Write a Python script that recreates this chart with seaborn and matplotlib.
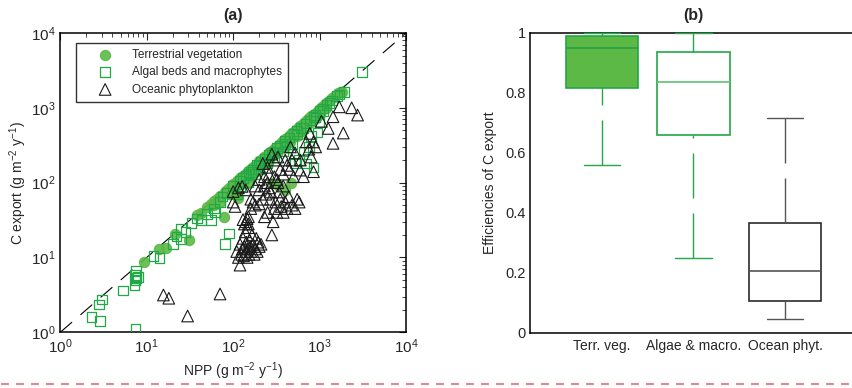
import numpy as np
import pandas as pd
import matplotlib
matplotlib.use("Agg")
import matplotlib.pyplot as plt
from matplotlib.lines import Line2D
import seaborn as sns

# %% data

# panel (a): NPP vs C export (g m-2 y-1)
terr_npp = [9.3, 14, 16.5, 21, 31, 38, 42, 50, 55, 60, 65, 70, 78, 80, 85, 90, 95, 100,
            105, 110, 115, 120, 130, 140, 145, 150, 160, 170, 180, 190, 200, 210, 220,
            230, 240, 250, 260, 270, 280, 300, 320, 330, 340, 360, 380, 400, 400, 420,
            450, 465, 480, 500, 530, 560, 600, 640, 680, 720, 760, 800, 850, 900, 950,
            1000, 1050, 1100, 1200, 1300, 1400, 1500, 1650, 1750, 1800,
            110, 130, 180, 230, 260, 300, 350, 450, 500, 600, 700, 285,
            60, 70, 90, 100, 120, 160, 200, 250, 320, 400, 550, 650, 800, 900, 1000, 1200]
terr_c = [8.8, 12.8, 13.2, 20.5, 17, 37, 39, 47, 52, 56, 60, 66, 35, 75, 80, 84, 72, 96,
          97, 104, 62, 114, 124, 132, 100, 142, 152, 162, 168, 160, 192, 200, 208,
          220, 228, 210, 248, 256, 268, 285, 304, 93, 322, 340, 362, 80, 378, 400,
          428, 100, 455, 470, 505, 530, 565, 610, 650, 690, 720, 770, 810, 860, 910,
          960, 1000, 1060, 1150, 1240, 1340, 1440, 1560, 1620, 1640,
          68, 100, 140, 180, 200, 240, 280, 350, 420, 470, 560, 99,
          50, 55, 70, 80, 95, 120, 160, 185, 250, 300, 420, 500, 640, 720, 830, 1000]

alg_npp = [2.3, 2.9, 2.8, 3.05, 5.3, 7.2, 7.4, 7.6, 7.3, 7.5, 7.9, 7.4, 12, 14, 20, 22,
           25, 25, 28, 33, 38, 43, 50, 55, 60, 62, 70, 80, 90, 75, 85, 100, 110, 120,
           130, 140, 150, 160, 170, 180, 190, 200, 210, 230, 250, 260, 280, 300, 320,
           350, 380, 400, 420, 450, 480, 500, 520, 550, 580, 600, 650, 700, 700, 750,
           780, 800, 850, 850, 900, 950, 1000, 1000, 1100, 1200, 1400, 1600, 1900, 3100,
           120, 150, 200, 230, 300, 400, 550, 650, 900, 1100, 1300, 1700]
alg_c = [1.6, 1.42, 2.35, 2.75, 3.6, 4.2, 5.0, 5.3, 5.8, 6.6, 5.5, 1.13, 10.5, 9.8, 15, 19,
         17.5, 24, 22, 29, 33, 31.5, 38, 31.5, 45, 40, 55, 15, 21, 65, 72, 90, 70, 105,
         115, 125, 100, 140, 150, 130, 175, 150, 190, 210, 180, 235, 250, 220, 290,
         310, 260, 360, 300, 400, 330, 450, 180, 490, 200, 540, 260, 620, 180, 300,
         680, 420, 750, 160, 800, 470, 900, 650, 980, 1080, 1250, 1450, 1620, 3000,
         90, 130, 170, 190, 260, 330, 440, 540, 740, 900, 1150, 1500]

ocean_npp = [15.6, 18, 29.7, 70.5, 120, 110, 115, 120, 125, 128, 130, 132, 135, 138, 140,
             142, 145, 148, 150, 152, 155, 158, 160, 165, 170, 175, 180, 185, 190, 195,
             200, 140, 145, 150, 135, 130, 150, 210, 100, 105, 100, 127, 115, 140, 160,
             170, 180, 160, 200, 220, 200, 230, 240, 250, 260, 270, 280, 290, 300, 310,
             300, 320, 330, 350, 360, 380, 400, 420, 350, 380, 400, 420, 450, 460, 480,
             500, 520, 550, 580, 595, 600, 650, 700, 750, 770, 800, 850, 850, 900, 1050,
             1260, 1430, 1690, 2350, 2750, 1430, 1880, 220, 250, 280, 300, 330, 230, 260,
             320, 180, 200, 250, 230, 270, 340, 380, 440, 480, 520]
ocean_c = [3.15, 2.85, 1.65, 3.25, 7.9, 12, 10, 15, 11, 13, 18, 10.5, 14, 22, 12,
           16, 10, 13, 25, 11, 17, 14, 12, 20, 15, 11, 13, 18, 12, 16,
           14, 30, 33, 35, 28, 32, 28, 15, 55, 48, 76, 89, 85, 80, 60,
           55, 50, 45, 52, 60, 80, 90, 70, 100, 85, 75, 20, 30, 45, 55,
           120, 110, 100, 60, 48, 40, 55, 45, 150, 130, 200, 170, 150, 300, 200,
           120, 250, 60, 55, 147, 200, 120, 350, 280, 455, 220, 140, 350, 300, 660,
           530, 760, 1030, 1000, 800, 335, 460, 180, 160, 240, 200, 220, 120, 130,
           40, 90, 110, 40, 35, 60, 75, 90, 65, 50, 45]

legend_labels = ["Terrestrial vegetation", "Algal beds and macrophytes", "Oceanic phytoplankton"]

# panel (b): five-number summaries of the export efficiencies (min, q1, median, q3, max)
box_groups = ["Terr. veg.", "Algae & macro.", "Ocean phyt."]
terr_eff = [0.56, 0.815, 0.95, 0.99, 1.0]
alg_eff = [0.25, 0.66, 0.835, 0.935, 1.0]
ocean_eff = [0.045, 0.105, 0.205, 0.365, 0.715]

# %% style
sns.set_style("white")
plt.rcParams["font.family"] = ["Liberation Sans", "DejaVu Sans"]
plt.rcParams["mathtext.default"] = "regular"

GREEN_FILL = "#5cb946"
GREEN_EDGE = "#21a847"

fig = plt.figure(figsize=(8.53, 3.88), dpi=100)
ax1 = fig.add_axes([0.0707, 0.1436, 0.4053, 0.7714])
ax2 = fig.add_axes([0.6213, 0.1418, 0.3869, 0.7732])

# %% panel (a)
df_t = pd.DataFrame({"npp": terr_npp, "c": terr_c})
df_a = pd.DataFrame({"npp": alg_npp, "c": alg_c})
df_o = pd.DataFrame({"npp": ocean_npp, "c": ocean_c})

ax1.plot([1, 1e4], [1, 1e4], color="black", lw=0.8, linestyle=(0, (14, 10)), zorder=1)
sns.scatterplot(data=df_t, x="npp", y="c", ax=ax1, marker="o", s=55,
                color=GREEN_FILL, edgecolor=GREEN_FILL, linewidth=0.8, alpha=0.9,
                label=legend_labels[0], zorder=2)
sns.scatterplot(data=df_a, x="npp", y="c", ax=ax1, marker="s", s=48,
                facecolor="none", edgecolor=GREEN_EDGE, linewidth=0.9,
                label=legend_labels[1], zorder=3)
sns.scatterplot(data=df_o, x="npp", y="c", ax=ax1, marker="^", s=70,
                facecolor="none", edgecolor="#1a1a1a", linewidth=0.8,
                label=legend_labels[2], zorder=4)

ax1.set_xscale("log")
ax1.set_yscale("log")
ax1.set_xlim(1, 1e4)
ax1.set_ylim(1, 1e4)
ax1.set_xlabel("NPP (g m$^{-2}$ y$^{-1}$)", fontsize=10, labelpad=3)
ax1.set_ylabel("C export (g m$^{-2}$ y$^{-1}$)", fontsize=10, labelpad=1)
ax1.tick_params(which="both", direction="in", top=True, right=True, labelsize=11)
ax1.tick_params(which="major", length=5, width=0.8)
ax1.tick_params(which="minor", length=3, width=0.6)
for sp in ax1.spines.values():
    sp.set_color("black")
    sp.set_linewidth(1.1)

leg = ax1.legend(loc="upper left", bbox_to_anchor=(0.045, 0.967), borderaxespad=0,
                 fontsize=8.6, frameon=True, fancybox=False, edgecolor="black",
                 handletextpad=0.3, labelspacing=0.45, borderpad=0.5, handlelength=3.9)
leg.get_frame().set_linewidth(1.0)

fig.text(0.2733, 0.961, "(a)", fontsize=11.5, fontweight="bold", ha="center", va="center")

# %% panel (b)
df_box = pd.DataFrame({
    "group": np.repeat(box_groups, 5),
    "eff": terr_eff + alg_eff + ocean_eff,
})
box_styles = {
    "Terr. veg.": dict(fill=GREEN_FILL, line=GREEN_EDGE, median="#2a9e46", whisk=GREEN_EDGE),
    "Algae & macro.": dict(fill="white", line=GREEN_EDGE, median="#5cc271", whisk=GREEN_EDGE),
    "Ocean phyt.": dict(fill="white", line="#2b2b2b", median="#555555", whisk="#555555"),
}
for g in box_groups:
    st = box_styles[g]
    sns.boxplot(data=df_box[df_box["group"] == g], x="group", y="eff", order=box_groups,
                ax=ax2, width=0.79, whis=(0, 100), saturation=1, color=st["fill"],
                linecolor=st["line"], linewidth=1.2, showfliers=False,
                medianprops=dict(color=st["median"], linewidth=1.2),
                whiskerprops=dict(color=st["whisk"], linestyle=(0, (32.4, 10.8)), linewidth=1.0),
                capprops=dict(color=st["whisk"], linewidth=1.0))

# whiskers: start the dash pattern at the cap end, caps drawn over the frame
for ln in ax2.lines:
    xd, yd = ln.get_xdata(), ln.get_ydata()
    if len(xd) == 2 and xd[0] == xd[1]:
        ln.set_ydata(yd[::-1])
    elif len(xd) == 2 and yd[0] == yd[1] and yd[0] >= 0.999:
        ln.set_clip_on(False)
        ln.set_zorder(5)

ax2.set_xlim(-0.787, 2.82)
ax2.set_ylim(0, 1)
ax2.set_yticks([0, 0.2, 0.4, 0.6, 0.8, 1])
ax2.set_yticklabels(["0", "0.2", "0.4", "0.6", "0.8", "1"])
ax2.set_xlabel("")
ax2.set_ylabel("Efficiencies of C export", fontsize=10, labelpad=6)
ax2.tick_params(axis="y", direction="in", length=4, width=0.8, labelsize=10.5, pad=3)
ax2.tick_params(axis="x", length=0, labelsize=10, pad=4)
for sp in ax2.spines.values():
    sp.set_color("black")
    sp.set_linewidth(1.1)

fig.text(0.8124, 0.961, "(b)", fontsize=11.5, fontweight="bold", ha="center", va="center")

# dashed separator at the bottom of the figure
fig.add_artist(Line2D([0.001, 1.0], [0.0103, 0.0103], transform=fig.transFigure,
                      color="#dc8a93", lw=1.5, linestyle=(0, (3.8, 3.4))))

plt.savefig("out.png", dpi=100)
